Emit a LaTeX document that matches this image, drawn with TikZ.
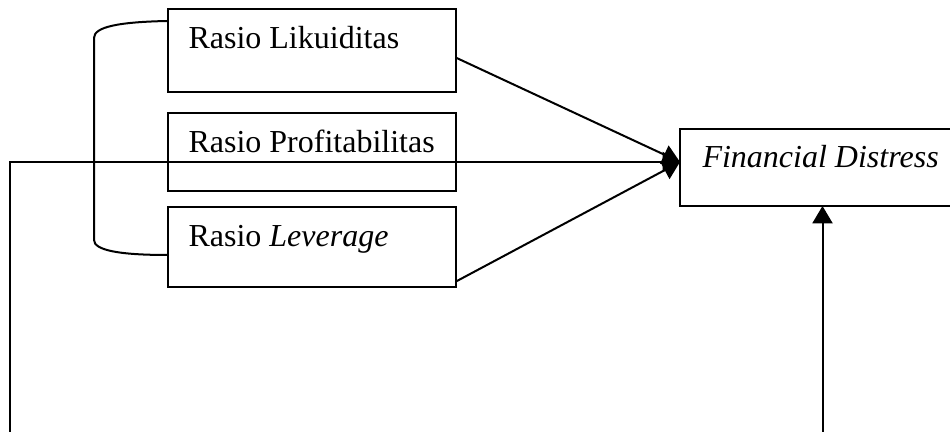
\documentclass[tikz,border=0pt]{standalone}
\usepackage{fontspec}
\setmainfont{Liberation Serif}
\usetikzlibrary{arrows.meta,calc}
\tikzset{
  box/.style={draw, line width=0.75pt, inner sep=0pt, outer sep=0pt, anchor=north west},
  lbl/.style={anchor=base west, inner sep=0pt, font=\fontsize{12}{14}\selectfont},
  conn/.style={line width=0.75pt},
  arr/.style={line width=0.75pt, -{Triangle[length=6.5pt,width=7.5pt]}}
}
\begin{document}
\begin{tikzpicture}[x=0.375pt,y=-0.375pt]
\clip (0,0) rectangle (950,432);
\useasboundingbox (0,0) rectangle (950,432);
% boxes
\node[box, minimum width=288.5*0.375pt, minimum height=83*0.375pt] (b1) at (167.5,9.5) {};
\node[box, minimum width=288.5*0.375pt, minimum height=78*0.375pt] (b2) at (167.5,113) {};
\node[box, minimum width=288.5*0.375pt, minimum height=80*0.375pt] (b3) at (167.5,207) {};
\node[box, minimum width=285*0.375pt, minimum height=77*0.375pt] (fd) at (680,129) {};
% texts
\node[lbl] (t1) at (188,49) {Rasio Likuiditas};
\node[lbl] (t2) at (188,153) {Rasio Profitabilitas};
\node[lbl] (t3) at (188,247) {Rasio \textit{Leverage}};
\node[lbl] (t4) at (702,168) {\textit{Financial Distress}};
% coordinates
\coordinate (tip) at ($(fd.north west)+(0,33)$);
\coordinate (lb) at (10,433);
\coordinate (rb) at (fd.south |- lb);
% connectors
\draw[arr] ($(b1.north east)+(0,48.2)$) -- (tip);
\draw[arr] ($(b3.north east)+(0,74.5)$) -- (tip);
\draw[arr] (lb) |- (tip);
\draw[arr] (rb) -- (fd.south);
% bracket
\draw[conn] ($(b1.north west)+(0,11.5)$) .. controls (118,22) and (94,27) .. (94,38)
  -- (94,240) .. controls (94,250) and (118,255) .. ($(b3.north west)+(0,48)$);
\end{tikzpicture}
\end{document}
